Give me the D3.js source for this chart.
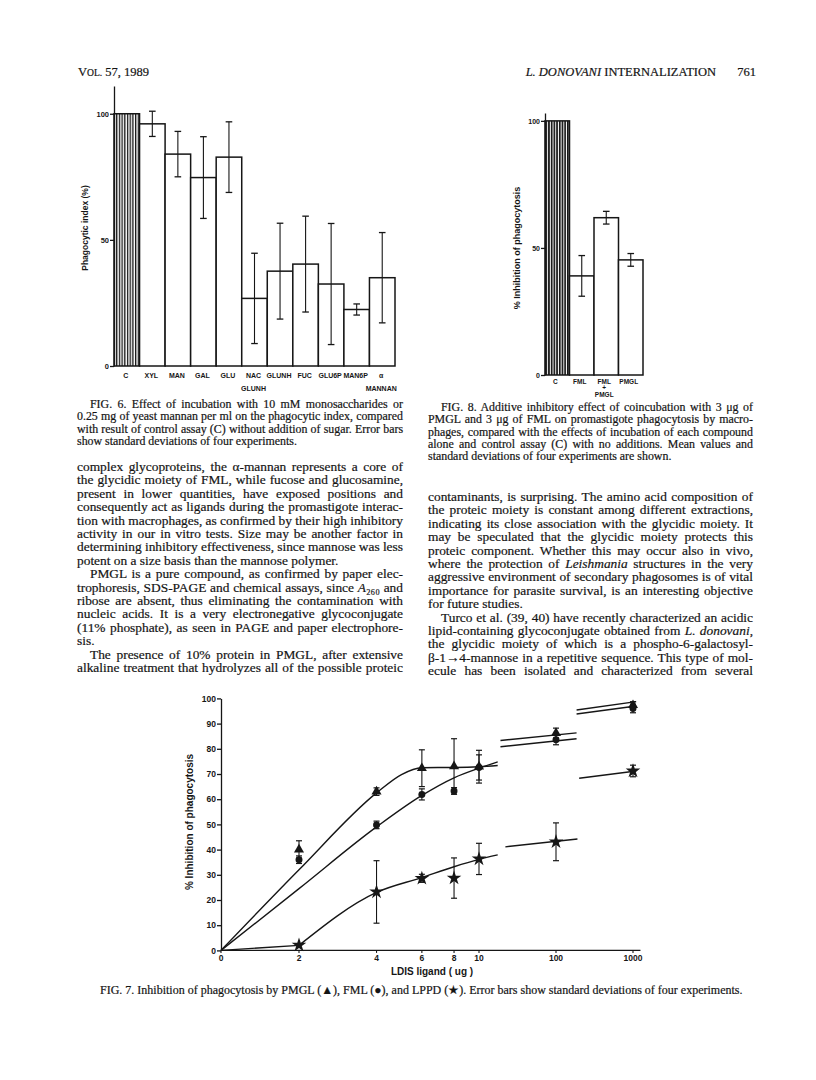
<!DOCTYPE html>
<html>
<head>
<meta charset="utf-8">
<script src="https://cdn.jsdelivr.net/npm/d3@7"></script>
<style>
body{margin:0;background:#fff}
svg{display:block}
.serif{font-family:"Liberation Serif","Times New Roman",serif;fill:#141414;stroke:#141414;stroke-width:0.2}
.lab{font-family:"Liberation Sans",Arial,sans-serif;font-weight:bold;fill:#161616}
.ax path,.ax line{stroke:#161616;stroke-width:1.3}
.ax text{font-family:"Liberation Sans",Arial,sans-serif;font-weight:bold;fill:#161616}
</style>
</head>
<body>
<svg id="page" width="816" height="1080"></svg>
<script>
// FIG. 6 - phagocytic index per sugar
var f6Cats = ["C", "XYL", "MAN", "GAL", "GLU", "NAC|GLUNH", "GLUNH", "FUC", "GLU6P", "MAN6P", "α|MANNAN"];
var f6Vals = [100, 96, 84, 74.7, 82.8, 26.8, 37.6, 40.4, 32.5, 22.4, 35];
var f6Err  = [0, 5, 9, 16.2, 14, 17.9, 19, 19, 24, 2.2, 17.9];
var f6Ticks = [0, 50, 100];

// FIG. 8 - additive effect
var f8Cats = ["C", "FML", "FML|+|PMGL", "PMGL"];
var f8Vals = [100, 39, 61.9, 45.3];
var f8Err  = [0, 8, 2.5, 2.5];
var f8Ticks = [0, 50, 100];

// FIG. 7 - dose response (ug of ligand)
var doses = [2, 4, 6, 8, 10, 100, 1000];
var pmgl   = [40, 63, 72.3, 73, 72.9, 86.2, 97.3];
var pmglSd = [3.5, 1.5, 7.3, 11, 6.5, 2, 1.4];
var fml    = [36, 49.8, 61.9, 63.3, 72.6, 83.6, 96];
var fmlSd  = [1.5, 1.5, 2.2, 1.3, 5, 2, 1.7];
var lppd   = [2.1, 23.2, 28.6, 28.7, 36.3, 43.1, 71.2];
var lppdSd = [0, 12.4, 1.6, 8, 6.2, 7.5, 2.3];
var doseTicks = [0, 2, 4, 6, 8, 10, 100, 1000];
var pctTicks = [0, 10, 20, 30, 40, 50, 60, 70, 80, 90, 100];

// fitted curves, drawn in broken pieces like the original
var pmglFit = [[[0, 0], [2, 32], [4, 62.5], [5, 69.8], [6, 72.5], [8, 72.6], [10, 72.9], [17.5, 73.4]],
               [[19, 83.3], [185, 86.3]],
               [[185, 95.4], [1100, 98.7]]];
var fmlFit  = [[[0, 0], [2, 24.5], [4, 49], [6, 61.5], [8, 68.5], [10, 72.3], [17.5, 74.8]],
               [[19, 80.8], [185, 84]],
               [[185, 93.8], [1100, 97]]];
var lppdFit = [[[0, 0], [2, 2]],
               [[2, 2], [4, 23], [6, 28.9], [8, 33.2], [10, 36.1], [17.5, 37.9]],
               [[22, 41.1], [190, 44.2]],
               [[200, 68.3], [1100, 71.2]]];

// page text: "~" = indented first line, "|" at end = last line of paragraph
var colLeft = [
  "complex glycoproteins, the α-mannan represents a core of",
  "the glycidic moiety of FML, while fucose and glucosamine,",
  "present in lower quantities, have exposed positions and",
  "consequently act as ligands during the promastigote interac-",
  "tion with macrophages, as confirmed by their high inhibitory",
  "activity in our in vitro tests. Size may be another factor in",
  "determining inhibitory effectiveness, since mannose was less",
  "potent on a size basis than the mannose polymer.|",
  "~PMGL is a pure compound, as confirmed by paper elec-",
  "trophoresis, SDS-PAGE and chemical assays, since *A*₂₆₀ and",
  "ribose are absent, thus eliminating the contamination with",
  "nucleic acids. It is a very electronegative glycoconjugate",
  "(11% phosphate), as seen in PAGE and paper electrophore-",
  "sis.|",
  "~The presence of 10% protein in PMGL, after extensive",
  "alkaline treatment that hydrolyzes all of the possible proteic"
];
var colRight = [
  "contaminants, is surprising. The amino acid composition of",
  "the proteic moiety is constant among different extractions,",
  "indicating its close association with the glycidic moiety. It",
  "may be speculated that the glycidic moiety protects this",
  "proteic component. Whether this may occur also in vivo,",
  "where the protection of *Leishmania* structures in the very",
  "aggressive environment of secondary phagosomes is of vital",
  "importance for parasite survival, is an interesting objective",
  "for future studies.|",
  "~Turco et al. (39, 40) have recently characterized an acidic",
  "lipid-containing glycoconjugate obtained from *L. donovani*,",
  "the glycidic moiety of which is a phospho-6-galactosyl-",
  "β-1→4-mannose in a repetitive sequence. This type of mol-",
  "ecule has been isolated and characterized from several"
];
var cap6 = [
  "~FIG. 6. Effect of incubation with 10 mM monosaccharides or",
  "0.25 mg of yeast mannan per ml on the phagocytic index, compared",
  "with result of control assay (C) without addition of sugar. Error bars",
  "show standard deviations of four experiments.|"
];
var cap8 = [
  "~FIG. 8. Additive inhibitory effect of coincubation with 3 μg of",
  "PMGL and 3 μg of FML on promastigote phagocytosis by macro-",
  "phages, compared with the effects of incubation of each compound",
  "alone and control assay (C) with no additions. Mean values and",
  "standard deviations of four experiments are shown.|"
];
var cap7 = "FIG. 7. Inhibition of phagocytosis by PMGL (▲), FML (●), and LPPD (★). Error bars show standard deviations of four experiments.";

var svg = d3.select("#page");
svg.append("rect").attr("width", 816).attr("height", 1080).attr("fill", "#fff");

var defs = svg.append("defs");
function hatch(id, w){
  var p = defs.append("pattern").attr("id", id).attr("patternUnits", "userSpaceOnUse")
    .attr("width", 2.7).attr("height", 10);
  p.append("rect").attr("width", w).attr("height", 10).attr("fill", "#161616");
}
hatch("h6", 1.3);
hatch("h8", 1.7);

// ---- text helpers
function runs(t, s){
  s.split(/(\*[^*]+\*)/).forEach(function(p){
    if(!p) return;
    var ts = t.append("tspan");
    if(p[0] === "*"){
      ts.style("font-style", "italic").text(p.slice(1, -1));
    } else {
      ts.text(p);
    }
  });
}
function block(lines, x0, y0, lead, width, size){
  lines.forEach(function(raw, i){
    var ind = raw[0] === "~" ? 13 : 0;
    var last = raw[raw.length - 1] === "|";
    var s = raw.replace(/^~/, "").replace(/\|$/, "");
    var t = svg.append("text").attr("class", "serif")
      .attr("x", x0 + ind).attr("y", y0 + i * lead)
      .style("font-size", size + "px");
    runs(t, s);
    if(!last){
      var gaps = (s.match(/ /g) || []).length;
      var w = t.node().getComputedTextLength();
      if(gaps) t.attr("word-spacing", ((width - ind - w) / gaps).toFixed(2) + "px");
    }
  });
}

// ---- running head
var hd = svg.append("text").attr("class", "serif").attr("x", 78).attr("y", 76).style("font-size", "12.5px");
hd.append("tspan").text("V");
hd.append("tspan").style("font-size", "9.6px").text("OL.");
hd.append("tspan").text(" 57, 1989");
var hr = svg.append("text").attr("class", "serif").attr("x", 716).attr("y", 76)
  .attr("text-anchor", "end").style("font-size", "12.5px");
hr.append("tspan").style("font-style", "italic").text("L. DONOVANI");
hr.append("tspan").text(" INTERNALIZATION");
svg.append("text").attr("class", "serif").attr("x", 756).attr("y", 76)
  .attr("text-anchor", "end").style("font-size", "12.5px").text("761");

// ---- bar figures
function barFig(o){
  var g = svg.append("g");
  var x = d3.scaleBand().domain(o.cats).range(o.xr).padding(0);
  var y = d3.scaleLinear().domain([0, o.top]).range(o.yr);

  g.selectAll("rect.bar").data(o.cats).enter().append("rect")
    .attr("x", function(d){ return x(d); })
    .attr("y", function(d, i){ return y(o.vals[i]); })
    .attr("width", x.bandwidth())
    .attr("height", function(d, i){ return y(0) - y(o.vals[i]); })
    .attr("fill", function(d, i){ return i === 0 ? "url(#" + o.hatch + ")" : "#fff"; })
    .attr("stroke", "#161616").attr("stroke-width", 1.5);

  o.cats.forEach(function(c, i){
    if(!o.err[i]) return;
    var cx = x(c) + x.bandwidth() / 2;
    var lo = y(o.vals[i] - o.err[i]), hi = y(o.vals[i] + o.err[i]);
    g.append("line").attr("x1", cx).attr("x2", cx).attr("y1", lo).attr("y2", hi)
      .attr("stroke", "#161616").attr("stroke-width", 1.1);
    [lo, hi].forEach(function(yy){
      g.append("line").attr("x1", cx - 3.3).attr("x2", cx + 3.3).attr("y1", yy).attr("y2", yy)
        .attr("stroke", "#161616").attr("stroke-width", 1.3);
    });
  });
  // labels under bars
  o.cats.forEach(function(c, i){
    var cx = x(c) + x.bandwidth() / 2 + o.lblDx;
    c.split("|").forEach(function(part, k){
      g.append("text").attr("class", "lab").attr("x", cx).attr("y", o.lblY + k * o.lblLead)
        .attr("text-anchor", "middle").style("font-size", o.lblSize + "px").text(part);
    });
  });

  var ax = g.append("g").attr("class", "ax").attr("transform", "translate(" + o.xr[0] + ",0)")
    .call(d3.axisLeft(y).tickValues(o.ticks).tickSize(4).tickSizeOuter(0).tickPadding(1));
  ax.selectAll("text").style("font-size", o.tickSize + "px");

  g.append("text").attr("class", "lab")
    .attr("transform", "translate(" + o.ylx + "," + o.yly + ") rotate(-90)")
    .attr("text-anchor", "middle").style("font-size", o.ylSize + "px").text(o.ylab);
}

barFig({cats: f6Cats, vals: f6Vals, err: f6Err, ticks: f6Ticks, hatch: "h6",
  xr: [114, 395], yr: [366, 86], top: 111,
  lblY: 378, lblLead: 13, lblSize: 7, lblDx: -1, tickSize: 7.5,
  ylab: "Phagocytic index (%)", ylx: 88, yly: 228, ylSize: 8.5});

barFig({cats: f8Cats, vals: f8Vals, err: f8Err, ticks: f8Ticks, hatch: "h8",
  xr: [545, 643], yr: [375, 113], top: 103.1,
  lblY: 384, lblLead: 6.3, lblSize: 6.5, lblDx: -2, tickSize: 7,
  ylab: "% Inhibition of phagocytosis", ylx: 520, yly: 248, ylSize: 9});

// ---- FIG. 7, broken log axis
var xLin  = d3.scaleLinear().domain([0, 2]).range([221, 299]);
var xLogA = d3.scaleLog().domain([2, 10]).range([299, 479]);
var xLogB = d3.scaleLog().domain([10, 1000]).range([479, 633]);
function x7(v){ return v <= 2 ? xLin(v) : v <= 10 ? xLogA(v) : xLogB(v); }
var y7 = d3.scaleLinear().domain([0, 100]).range([950.4, 698.4]);

var g7 = svg.append("g");
var ax7 = g7.append("g").attr("class", "ax").attr("transform", "translate(" + x7(0) + ",0)")
  .call(d3.axisLeft(y7).tickValues(pctTicks).tickSize(4).tickSizeOuter(0).tickPadding(1));
ax7.selectAll("text").style("font-size", "8.5px");

g7.append("line").attr("x1", x7(0)).attr("x2", x7(1250)).attr("y1", y7(0)).attr("y2", y7(0))
  .attr("stroke", "#161616").attr("stroke-width", 1.3);
doseTicks.forEach(function(d){
  g7.append("line").attr("x1", x7(d)).attr("x2", x7(d)).attr("y1", y7(0)).attr("y2", y7(0) + 2.5)
    .attr("stroke", "#161616").attr("stroke-width", 1.1);
  g7.append("text").attr("class", "lab").attr("x", x7(d)).attr("y", y7(0) + 11)
    .attr("text-anchor", "middle").style("font-size", "8.5px").text(d);
});
g7.append("text").attr("class", "lab").attr("x", 432).attr("y", 975)
  .attr("text-anchor", "middle").style("font-size", "10px").text("LDIS ligand ( ug )");
g7.append("text").attr("class", "lab")
  .attr("transform", "translate(193,822) rotate(-90)")
  .attr("text-anchor", "middle").style("font-size", "10px").text("% Inhibition of phagocytosis");

var line7 = d3.line()
  .x(function(d){ return x7(d[0]); })
  .y(function(d){ return y7(d[1]); })
  .curve(d3.curveMonotoneX);
[pmglFit, fmlFit, lppdFit].forEach(function(segs){
  segs.forEach(function(s){
    g7.append("path").attr("d", line7(s)).attr("fill", "none")
      .attr("stroke", "#161616").attr("stroke-width", 1.4);
  });
});

var series7 = [
  {v: pmgl, sd: pmglSd, sym: d3.symbolTriangle, size: 44},
  {v: fml, sd: fmlSd, sym: d3.symbolCircle, size: 38},
  {v: lppd, sd: lppdSd, sym: d3.symbolStar, size: 66}
];
series7.forEach(function(s){
  doses.forEach(function(d, i){
    var cx = x7(d), cy = y7(s.v[i]);
    if(s.sd[i]){
      var lo = y7(s.v[i] - s.sd[i]), hi = y7(s.v[i] + s.sd[i]);
      g7.append("line").attr("x1", cx).attr("x2", cx).attr("y1", lo).attr("y2", hi)
        .attr("stroke", "#161616").attr("stroke-width", 1.1);
      [lo, hi].forEach(function(yy){
        g7.append("line").attr("x1", cx - 3).attr("x2", cx + 3).attr("y1", yy).attr("y2", yy)
          .attr("stroke", "#161616").attr("stroke-width", 1.2);
      });
    }
    g7.append("path").attr("d", d3.symbol().type(s.sym).size(s.size)())
      .attr("transform", "translate(" + cx + "," + cy + ")")
      .attr("fill", "#161616");
  });
});

// ---- captions and body text
block(cap6, 77, 408, 12.3, 326, 11.9);
block(cap8, 428, 411, 12.3, 325, 11.9);
block(colLeft, 77, 471, 13.4, 326, 13.4);
block(colRight, 428, 501, 13.4, 325, 13.4);

var c7 = svg.append("text").attr("class", "serif").attr("x", 100).attr("y", 994)
  .style("font-size", "12px").text(cap7);
if(c7.node().getComputedTextLength() > 652){
  c7.attr("textLength", 652).attr("lengthAdjust", "spacingAndGlyphs");
}
</script>
</body>
</html>
